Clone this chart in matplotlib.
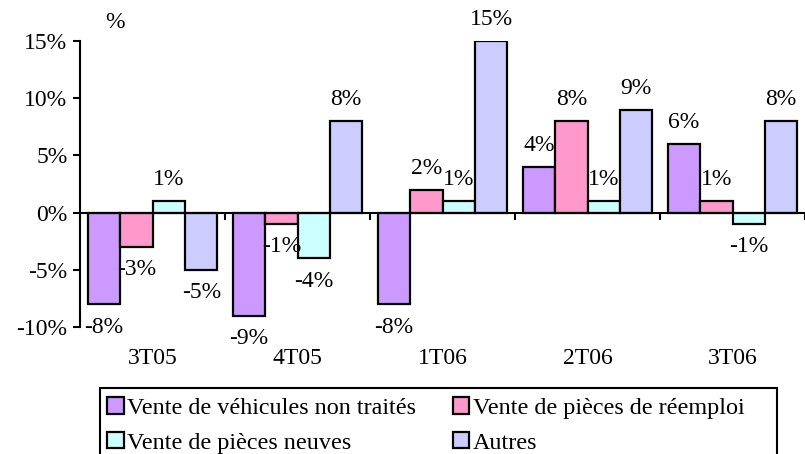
import matplotlib.pyplot as plt
from matplotlib.patches import Rectangle
import numpy as np

plt.rcParams['font.family'] = ['Liberation Serif', 'DejaVu Serif']

quarters = ['3T05', '4T05', '1T06', '2T06', '3T06']
series = ['Vente de véhicules non traités', 'Vente de pièces de réemploi',
          'Vente de pièces neuves', 'Autres']
vehicules = [-8, -9, -8, 4, 6]
reemploi = [-3, -1, 2, 8, 1]
neuves = [1, -4, 1, 1, -1]
autres = [-5, 8, 15, 9, 8]
colors = ['#CC99FF', '#FF99CC', '#CCFFFF', '#CCCCFF']

fig = plt.figure(figsize=(8.05, 4.54), dpi=100)
ax = fig.add_axes([0.0994, 0.2797, 0.9006, 0.63])

x = np.arange(len(quarters))
width = 0.224
for k, (vals, name, col) in enumerate(zip([vehicules, reemploi, neuves, autres], series, colors)):
    pos = x + (k - 1.5) * width
    ax.bar(pos, vals, width, color=col, edgecolor='black', linewidth=1.6, label=name)
    for px, v in zip(pos, vals):
        off = 15.5 if v > 0 else -16.5
        ax.annotate(f'{v}%', (px, v), xytext=(0, off), textcoords='offset points',
                    ha='center', va='center', fontsize=17)

ax.set_xlim(-0.5, 4.5)
ax.set_ylim(-10, 15)
ax.set_yticks([-10, -5, 0, 5, 10, 15])
ax.set_yticklabels([f'{t}%' for t in [-10, -5, 0, 5, 10, 15]], fontsize=17)
ax.tick_params(axis='y', direction='out', length=5, width=1.5, pad=4)

# zero line with tick marks between quarters
ax.spines['bottom'].set_position(('data', 0))
ax.spines['bottom'].set_linewidth(1.5)
ax.spines['left'].set_linewidth(1.5)
ax.spines['top'].set_visible(False)
ax.spines['right'].set_visible(False)
ax.set_xticks(np.arange(-0.5, 5, 1))
ax.set_xticklabels([])
ax.tick_params(axis='x', direction='out', length=5, width=1.5)

for i, q in enumerate(quarters):
    ax.annotate(q, (i, -10), xytext=(0, -22.5), textcoords='offset points',
                ha='center', va='center', fontsize=17)

fig.text(0.143, 0.950, '%', fontsize=17, ha='center', va='center')

# legend box, filled row by row
fig.patches.append(Rectangle((100 / 805, -0.05), 677 / 805, 0.05 + 66 / 454,
                             transform=fig.transFigure, fill=False,
                             edgecolor='black', linewidth=1.5))
handles, labels = ax.get_legend_handles_labels()
order = [0, 2, 1, 3]
fig.legend([handles[i] for i in order], [labels[i] for i in order], ncol=2,
           loc='upper left', bbox_to_anchor=(105 / 805, 1 - 395 / 454), frameon=False,
           fontsize=17.4, handlelength=0.68, handleheight=0.68, handletextpad=0.15,
           columnspacing=1.5, labelspacing=0.52, borderpad=0.1, borderaxespad=0)

fig.savefig('out.png', dpi=100)
